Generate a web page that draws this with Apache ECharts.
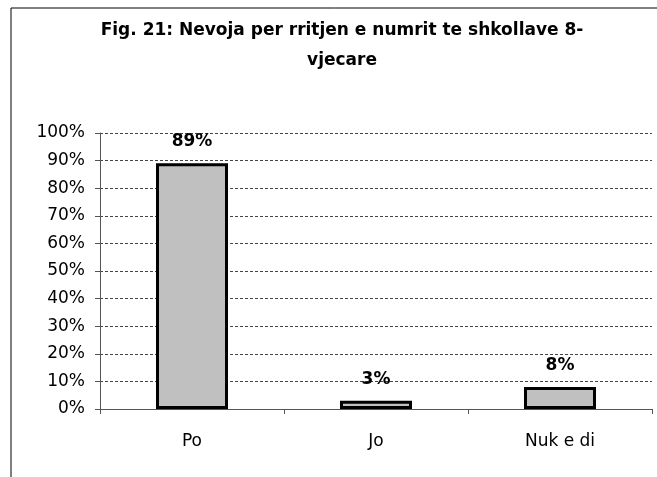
<!DOCTYPE html>
<html>
<head>
<meta charset="utf-8">
<script src="https://cdn.jsdelivr.net/npm/echarts@6/dist/echarts.min.js"></script>
<style>
  html, body { margin: 0; padding: 0; background: #fff; }
  #main { width: 657px; height: 477px; }
</style>
</head>
<body>
<div id="main"></div>
<script>
// te dhenat e grafikut
var categories = ['Po', 'Jo', 'Nuk e di'];
var values = [89, 3, 8];
var yTicks = [0, 10, 20, 30, 40, 50, 60, 70, 80, 90, 100];

var fontFamily = '"DejaVu Sans", "Liberation Sans", Arial, sans-serif';
var myChart = echarts.init(document.getElementById('main'));

var option = {
  backgroundColor: '#fff',
  animation: false,
  title: {
    text: 'Fig. 21: Nevoja per rritjen e numrit te shkollave 8-\nvjecare',
    left: 342,
    top: 16,
    textAlign: 'center',
    padding: 0,
    textStyle: {
      fontFamily: fontFamily,
      fontSize: 17,
      fontWeight: 'bold',
      color: '#000',
      lineHeight: 30
    }
  },
  // korniza e jashtme
  graphic: [
    {
      type: 'rect',
      shape: {x: 11, y: 8, width: 700, height: 520},
      style: {fill: 'none', stroke: '#000', lineWidth: 1},
      silent: true
    }
  ],
  grid: {
    left: 100,
    right: 5,
    top: 133,
    bottom: 68
  },
  xAxis: {
    type: 'category',
    data: categories,
    axisLine: {lineStyle: {color: '#555', width: 1}},
    axisTick: {show: true, length: 5, lineStyle: {color: '#555'}},
    axisLabel: {
      margin: 24,
      fontFamily: fontFamily,
      fontSize: 17,
      color: '#000'
    }
  },
  yAxis: {
    type: 'value',
    min: yTicks[0],
    max: yTicks[yTicks.length - 1],
    interval: 10,
    axisLine: {show: true, lineStyle: {color: '#555', width: 1}},
    axisTick: {show: true, length: 5, lineStyle: {color: '#555'}},
    axisLabel: {
      margin: 15,
      fontFamily: fontFamily,
      fontSize: 17,
      color: '#000',
      formatter: '{value}%'
    },
    splitLine: {
      show: true,
      lineStyle: {color: '#444', width: 1, type: [3, 2]}
    }
  },
  series: [
    {
      type: 'bar',
      data: values,
      barWidth: 72,
      itemStyle: {
        color: '#c0c0c0',
        borderColor: '#000',
        borderWidth: 3
      },
      label: {
        show: true,
        position: 'top',
        distance: 13,
        formatter: '{c}%',
        fontFamily: fontFamily,
        fontSize: 17,
        fontWeight: 'bold',
        color: '#000'
      }
    }
  ]
};
myChart.setOption(option);
</script>
</body>
</html>
